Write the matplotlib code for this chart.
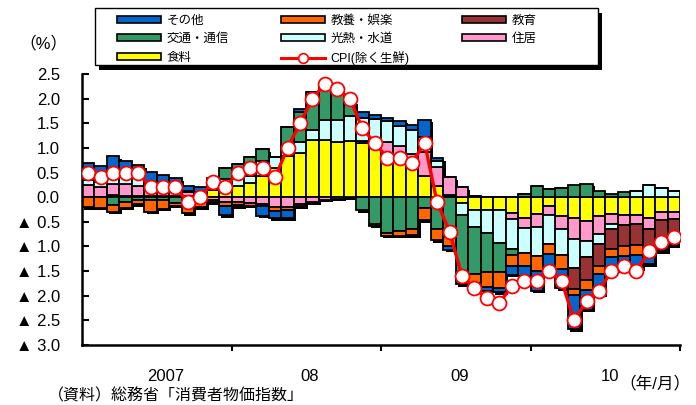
import matplotlib
matplotlib.use("Agg")
import matplotlib.pyplot as plt
import numpy as np
from matplotlib.patches import Patch, Rectangle
from matplotlib.lines import Line2D

plt.rcParams['font.family'] = ['Liberation Sans', 'Noto Sans CJK JP']

# 2007年1月～2010年12月 (48か月)
months = np.arange(48)
year_labels = ["2007", "08", "09", "10"]

# 寄与度 (%ポイント)
food = [0.0, 0.0, 0.04, 0.03, 0.03, 0.02, 0.02, 0.03, 0.03, 0.05, 0.14, 0.12,
        0.22, 0.28, 0.43, 0.59, 0.83, 0.9, 1.16, 1.17, 1.13, 1.15, 1.1, 1.05,
        0.83, 0.75, 0.62, 0.42, 0.22, 0.05, -0.12, -0.25, -0.25, -0.25, -0.32, -0.42,
        -0.35, -0.17, -0.38, -0.42, -0.48, -0.38, -0.35, -0.36, -0.36, -0.42, -0.3, -0.3]
housing = [0.24, 0.2, 0.22, 0.23, 0.2, 0.18, 0.16, 0.15, 0.08, 0.06, -0.05, -0.1,
           -0.1, -0.12, -0.13, -0.2, -0.2, -0.13, -0.1, -0.05, -0.03, 0.0, 0.05, 0.1,
           0.3, 0.28, 0.25, 0.5, 0.4, 0.35, 0.2, 0.02, 0.0, 0.0, -0.13, -0.2,
           -0.25, -0.2, -0.26, -0.42, -0.4, -0.36, -0.2, -0.2, -0.18, -0.22, -0.17, -0.15]
utilities = [0.1, 0.1, 0.2, 0.15, 0.15, 0.1, 0.1, 0.08, 0.02, 0.0, 0.1, 0.25,
             0.25, 0.15, 0.3, 0.22, 0.22, 0.22, 0.2, 0.4, 0.43, 0.5, 0.45, 0.43,
             0.42, 0.42, 0.5, 0.3, 0.12, 0.0, -0.25, -0.35, -0.47, -0.67, -0.6, -0.52,
             -0.6, -0.58, -0.53, -0.6, -0.33, -0.22, -0.1, 0.0, 0.13, 0.25, 0.18, 0.13]
transport = [0.0, 0.0, -0.16, -0.1, -0.06, -0.05, -0.06, -0.12, -0.08, -0.1, 0.1, 0.22,
             0.2, 0.38, 0.24, 0.0, 0.38, 0.6, 0.78, 0.7, 0.58, 0.3, -0.27, -0.55,
             -0.73, -0.68, -0.65, -0.22, -0.65, -0.8, -1.27, -0.95, -0.8, -0.6, -0.13, 0.07,
             0.22, 0.17, 0.18, 0.25, 0.27, 0.13, 0.06, 0.1, 0.0, 0.0, 0.0, 0.0]
education = [0.0] * 39 + [-0.42, -0.48, -0.43, -0.4, -0.43, -0.44, -0.42, -0.48, -0.43]
culture = [-0.2, -0.22, -0.14, -0.12, -0.08, -0.25, -0.17, -0.05, -0.25, -0.1, -0.05, -0.07,
           -0.05, -0.05, -0.05, -0.08, -0.05, -0.05, 0.0, 0.0, 0.0, 0.0, 0.0, -0.03,
           -0.05, -0.1, -0.12, -0.25, -0.22, -0.2, -0.05, -0.2, -0.3, -0.33, -0.22, -0.26,
           -0.3, -0.2, -0.28, -0.12, -0.2, -0.16, -0.16, -0.2, -0.2, -0.1, -0.1, -0.05]
other = [0.35, 0.34, 0.37, 0.32, 0.27, 0.22, 0.17, 0.12, 0.1, 0.1, 0.05, -0.2,
         -0.03, 0.0, -0.2, -0.15, -0.18, 0.06, 0.0, 0.0, 0.0, 0.0, 0.12, 0.08,
         0.05, 0.1, 0.1, 0.35, 0.05, -0.07, -0.08, -0.07, -0.08, -0.08, -0.17, -0.2,
         -0.4, -0.45, -0.4, -0.7, -0.4, -0.42, -0.27, -0.18, -0.27, -0.2, -0.05, -0.05]

# CPI(除く生鮮) 前年同月比
cpi = [0.5, 0.4, 0.5, 0.5, 0.5, 0.2, 0.2, 0.2, -0.1, 0.0, 0.3, 0.2,
       0.5, 0.6, 0.6, 0.4, 1.0, 1.5, 2.0, 2.3, 2.2, 2.0, 1.4, 1.1,
       0.8, 0.8, 0.7, 1.1, -0.1, -0.7, -1.6, -1.85, -2.05, -2.15, -1.8, -1.7,
       -1.7, -1.5, -1.7, -2.5, -2.1, -1.9, -1.5, -1.4, -1.5, -1.1, -0.9, -0.8]

# 積み上げ順 (下から)
series = [("食料", food, "#FFFF00"),
          ("住居", housing, "#FF99CC"),
          ("光熱・水道", utilities, "#CCFFFF"),
          ("交通・通信", transport, "#339966"),
          ("教育", education, "#993333"),
          ("教養・娯楽", culture, "#FF6600"),
          ("その他", other, "#0066CC")]

W, H = 696, 405
fig = plt.figure(figsize=(W / 100, H / 100), dpi=100)
ax = fig.add_axes([82 / W, 1 - 345 / H, 598 / W, 271 / H])

pos_total = np.zeros(48)
neg_total = np.zeros(48)
for name, vals, col in series:
    v = np.array(vals)
    pos_total += np.where(v > 0, v, 0)
    neg_total += np.where(v < 0, v, 0)

# 影
ax.bar(months + 0.18, pos_total - neg_total, bottom=neg_total - 0.05, width=1.0,
       color="black", zorder=1)

pos_bottom = np.zeros(48)
neg_bottom = np.zeros(48)
handles = {}
for name, vals, col in series:
    v = np.array(vals)
    bottom = np.where(v >= 0, pos_bottom, neg_bottom)
    ax.bar(months, v, bottom=bottom, width=1.0, color=col, edgecolor="black",
           linewidth=1.3, zorder=2)
    pos_bottom += np.where(v > 0, v, 0)
    neg_bottom += np.where(v < 0, v, 0)
    handles[name] = Patch(facecolor=col, edgecolor="black", linewidth=1.2)

ax.plot(months, cpi, color="red", linewidth=2.4, marker="o", markersize=10,
        markerfacecolor="white", markeredgecolor="red", markeredgewidth=1.3, zorder=3)
handles["CPI(除く生鮮)"] = Line2D([], [], color="red", linewidth=2.2, marker="o",
                                 markersize=7, markerfacecolor="white",
                                 markeredgecolor="red", markeredgewidth=1.2)

ax.set_xlim(-0.5, 47.5)
ax.set_ylim(-3.0, 2.5)

# 軸
ax.spines['top'].set_visible(False)
ax.spines['right'].set_visible(False)
ax.spines['left'].set_linewidth(1.8)
ax.spines['bottom'].set_linewidth(1.8)

yt = np.arange(-3.0, 2.51, 0.5)
ax.set_yticks(yt)
ax.set_yticklabels(["%.1f" % t if t >= 0 else "▲ %.1f" % -t for t in yt + 0.0])
ax.tick_params(axis="y", direction="in", length=5, width=1.5, pad=16, labelsize=12)

ax.set_xticks([11.5, 23.5, 35.5, 47.5])
ax.set_xticklabels([])
ax.tick_params(axis="x", which="major", direction="out", length=4, width=1.5)
ax.set_xticks([6.2, 17.8, 29.8, 41.9], minor=True)
ax.set_xticklabels(year_labels, minor=True)
ax.tick_params(axis="x", which="minor", length=0, pad=17, labelsize=12)

fig.text(43 / W, 1 - 43 / H, "（%）", fontsize=12, ha="center", va="center")
fig.text(655 / W, 1 - 383 / H, "（年/月）", fontsize=12, ha="center", va="center")
fig.text(48 / W, 1 - 396 / H, "（資料）総務省「消費者物価指数」", fontsize=11.5,
         ha="left", va="center")

# 凡例の枠と影
fig.patches.append(Rectangle((99 / W, 1 - 70 / H), 503 / W, 57 / H,
                             transform=fig.transFigure, facecolor="black", zorder=4))
fig.patches.append(Rectangle((95 / W, 1 - 65 / H), 503 / W, 57 / H,
                             transform=fig.transFigure, facecolor="white",
                             edgecolor="black", linewidth=1.0, zorder=4))

# 凡例 (列ごとに並べる)
order = ["その他", "交通・通信", "食料", "教養・娯楽", "光熱・水道", "CPI(除く生鮮)", "教育", "住居"]
leg = fig.legend([handles[k] for k in order], order, ncol=3, loc="upper left",
                 bbox_to_anchor=(117 / W, 1 - 15 / H), borderaxespad=0, borderpad=0,
                 fontsize=9, handlelength=3.5, handleheight=0.5, handletextpad=0.45,
                 columnspacing=4.2, labelspacing=0.5, frameon=False)
leg.set_zorder(5)

fig.savefig("out.png", dpi=100)
